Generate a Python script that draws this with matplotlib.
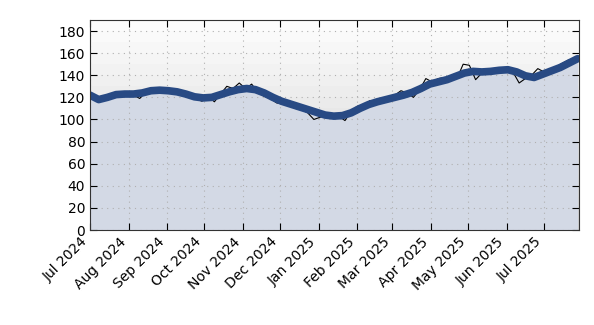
import pandas as pd
import matplotlib
matplotlib.use('Agg')
import matplotlib.pyplot as plt
import matplotlib.dates as mdates

# weekly smoothed trend (from 2024-07-01)
trend_dates = pd.date_range('2024-07-01', periods=57, freq='7D')
trend_vals = [122, 118, 120, 122.5, 123, 123, 124, 126, 126.5, 126,
              125, 123, 120.5, 119.5, 120, 122.5, 125, 127, 128, 127,
              124, 120, 116.5, 114, 111.5, 109, 106.5, 104, 103, 103.5,
              106, 110, 113.5, 116, 118, 120, 122, 124.5, 128, 132,
              134, 136, 139, 142, 143.5, 143, 143.5, 144.5, 145, 143,
              139.5, 138, 141, 144, 147, 151, 155]

# raw series, every 5 days
raw_dates = pd.date_range('2024-07-01', periods=79, freq='5D')
raw_vals = [123, 118, 117, 121, 123, 123, 123, 122, 119, 125,
            126, 127.5, 126, 127, 125, 126, 122, 119, 116.5, 121,
            116, 123, 130, 128, 133, 128, 132, 124, 121, 119,
            115, 114, 113, 110, 109, 106, 100, 102, 104, 103,
            103, 99, 108, 112, 113, 117, 116, 119, 118, 122,
            126, 124, 120, 127, 137, 134, 137, 138, 136, 137,
            150, 149, 136, 142, 143, 144, 145, 147, 143, 133,
            137, 140, 146, 143, 145, 148, 151, 154, 155]

fig = plt.figure(figsize=(5.94, 3.25), dpi=100)
ax = fig.add_axes([0.1515, 0.2923, 0.823, 0.6462])

# stepped grey background
for lo in range(0, 190, 10):
    g = 0.99 - (180 - lo) * 0.001
    ax.axhspan(lo, lo + 10, color=(g, g, g), lw=0, zorder=0)

ax.fill_between(trend_dates, 0, trend_vals, color='#d3d9e5', lw=0, zorder=1)
ax.grid(True, color='#b0b0b0', linestyle=(0, (1, 4)), linewidth=0.8, zorder=2)
ax.plot(raw_dates, raw_vals, color='black', lw=0.8, zorder=3)
ax.plot(trend_dates, trend_vals, color='#284a84', lw=5.5,
        solid_capstyle='round', solid_joinstyle='round', zorder=4)

ax.set_xlim(pd.Timestamp('2024-07-01'), pd.Timestamp('2025-07-29'))
ax.set_ylim(0, 190)
ax.set_yticks(range(0, 181, 20))
ax.xaxis.set_major_locator(mdates.MonthLocator())
ax.xaxis.set_major_formatter(mdates.DateFormatter('%b %Y'))
plt.setp(ax.get_xticklabels(), rotation=45, ha='right')
ax.tick_params(direction='in', length=5, top=True, right=True, labelsize=10)
ax.set_axisbelow(False)
for s in ax.spines.values():
    s.set_color('#333333')
    s.set_zorder(5)

fig.savefig('out.png', dpi=100)
